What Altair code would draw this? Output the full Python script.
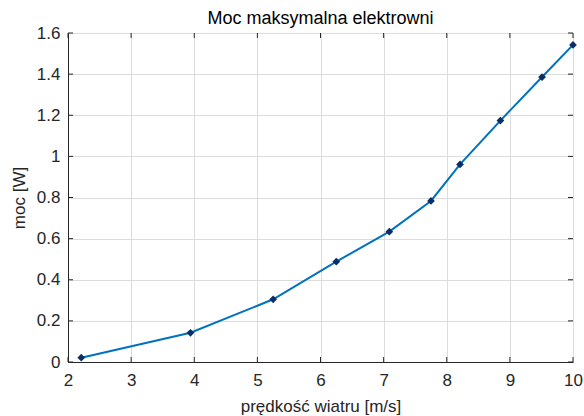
import altair as alt
import pandas as pd

speed = [2.21, 3.94, 5.25, 6.25, 7.09, 7.75, 8.21, 8.85, 9.51, 10.0]
power = [0.021, 0.142, 0.305, 0.488, 0.634, 0.783, 0.961, 1.174, 1.386, 1.542]
x_ticks = [2, 3, 4, 5, 6, 7, 8, 9, 10]
y_ticks = [0, 0.2, 0.4, 0.6, 0.8, 1.0, 1.2, 1.4, 1.6]

df = pd.DataFrame({"v": speed, "p": power})
dfx = pd.DataFrame({"t": x_ticks})
dfy = pd.DataFrame({"t": y_ticks})

W, H = 505, 329
FONT = "Liberation Sans"
xs = alt.Scale(domain=[2, 10], nice=False, zero=False)
ys = alt.Scale(domain=[0, 1.6], nice=False)
x = alt.X("v:Q", scale=xs,
          axis=alt.Axis(values=x_ticks, title="prędkość wiatru [m/s]", format="d",
                        grid=True, ticks=False, labelPadding=10, titlePadding=10,
                        labelFontSize=17, titleFontSize=17, titleFontWeight="normal",
                        labelFont=FONT, titleFont=FONT, labelColor="#262626",
                        titleColor="#262626", domainColor="#262626",
                        gridColor="#dcdcdc", labelFlush=False))
y = alt.Y("p:Q", scale=ys,
          axis=alt.Axis(values=y_ticks, title="moc [W]", labelExpr="format(datum.value, '~g')",
                        grid=True, ticks=False, labelPadding=8, titlePadding=8,
                        labelFontSize=17, titleFontSize=17, titleFontWeight="normal",
                        labelFont=FONT, titleFont=FONT, labelColor="#262626",
                        titleColor="#262626", domainColor="#262626",
                        gridColor="#dcdcdc", labelFlush=False))

line = alt.Chart(df).mark_line(color="#0072BD", strokeWidth=2).encode(x=x, y=y)
pts = alt.Chart(df).mark_point(shape="diamond", filled=True, color="#0a2f66",
                               size=60, opacity=1).encode(x="v:Q", y="p:Q")

tk = dict(color="#262626", strokeWidth=1)
xb = alt.Chart(dfx).mark_rule(**tk).encode(x=alt.X("t:Q", scale=xs), y=alt.value(H), y2=alt.value(H - 5))
xt = alt.Chart(dfx).mark_rule(**tk).encode(x=alt.X("t:Q", scale=xs), y=alt.value(0), y2=alt.value(5))
yl = alt.Chart(dfy).mark_rule(**tk).encode(y=alt.Y("t:Q", scale=ys), x=alt.value(0), x2=alt.value(5))
yr = alt.Chart(dfy).mark_rule(**tk).encode(y=alt.Y("t:Q", scale=ys), x=alt.value(W), x2=alt.value(W - 5))

chart = alt.layer(line, xb, xt, yl, yr, pts).properties(
    width=W, height=H,
    title=alt.TitleParams("Moc maksymalna elektrowni", font=FONT, fontSize=18,
                          fontWeight="normal", color="#000000", offset=-4),
    padding={"left": 68, "top": 33, "right": 11, "bottom": 54},
    autosize=alt.AutoSizeParams(type="none"),
).configure_view(stroke="#262626", strokeWidth=1).configure(background="white")

chart.save("out.html", embed_options={"renderer": "svg", "actions": False})
